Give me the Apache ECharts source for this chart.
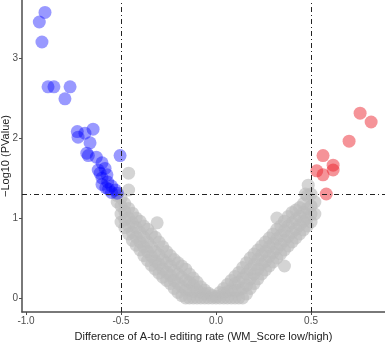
<!DOCTYPE html>
<html>
<head>
<meta charset="utf-8">
<script src="https://cdn.jsdelivr.net/npm/echarts@6/dist/echarts.min.js"></script>
<style>
  html, body { margin: 0; padding: 0; background: #fff; }
  #chart { width: 385px; height: 349px; }
</style>
</head>
<body>
<div id="chart"></div>
<script>
// ticks
const xTicks = [-1.0, -0.5, 0.0, 0.5];
const yTicks = [0, 1, 2, 3];
// thresholds
const xCut = [-0.5, 0.5];
const yCut = 1.3;

// significant, lower in "low"
const downPoints = [
    [-0.90, 3.57], [-0.93, 3.45], [-0.916, 3.2],
    [-0.884, 2.64], [-0.853, 2.64], [-0.768, 2.64], [-0.795, 2.49],
    [-0.73, 2.08], [-0.726, 2.01], [-0.69, 2.06], [-0.647, 2.11], [-0.663, 1.94],
    [-0.68, 1.81], [-0.672, 1.78], [-0.63, 1.76], [-0.60, 1.69], [-0.584, 1.62],
    [-0.61, 1.56], [-0.574, 1.54], [-0.505, 1.78],
    [-0.62, 1.6], [-0.60, 1.5], [-0.57, 1.45], [-0.55, 1.4], [-0.53, 1.35],
    [-0.58, 1.38], [-0.55, 1.32], [-0.52, 1.31], [-0.6, 1.42], [-0.565, 1.36]
];
// significant, higher in "low"
const upPoints = [
    [0.758, 2.31], [0.816, 2.2], [0.70, 1.96], [0.563, 1.78],
    [0.616, 1.66], [0.616, 1.6], [0.53, 1.59], [0.563, 1.54], [0.58, 1.30]
];
// not significant, columns of [x, [y...]]
const nsColumns = [
    [-0.52, [1.2, 1.28]],
    [-0.50, [0.95, 1.05, 1.15, 1.25]],
    [-0.48, [0.88, 0.98, 1.08, 1.18]],
    [-0.46, [0.8, 0.9, 1.0, 1.12]],
    [-0.44, [0.72, 0.82, 0.94, 1.06]],
    [-0.42, [0.66, 0.76, 0.88, 1.0]],
    [-0.40, [0.6, 0.7, 0.82, 0.96]],
    [-0.38, [0.53, 0.64, 0.76, 0.9]],
    [-0.36, [0.47, 0.58, 0.7, 0.86]],
    [-0.34, [0.41, 0.52, 0.64, 0.8]],
    [-0.32, [0.36, 0.46, 0.58, 0.76]],
    [-0.30, [0.31, 0.42, 0.54, 0.7]],
    [-0.28, [0.26, 0.36, 0.48, 0.64]],
    [-0.26, [0.22, 0.32, 0.44, 0.58]],
    [-0.24, [0.18, 0.28, 0.4, 0.53]],
    [-0.22, [0.12, 0.22, 0.34, 0.48]],
    [-0.20, [0.07, 0.18, 0.3, 0.44]],
    [-0.18, [0.03, 0.14, 0.26, 0.4]],
    [-0.16, [0.0, 0.1, 0.22, 0.36]],
    [-0.14, [0.0, 0.1, 0.2, 0.3]],
    [-0.12, [0.0, 0.08, 0.16, 0.25]],
    [-0.10, [0.0, 0.1, 0.2]],
    [-0.08, [0.0, 0.07, 0.14]],
    [-0.06, [0.0, 0.05, 0.1]],
    [-0.04, [0.0, 0.06]],
    [-0.02, [0.0, 0.03]],
    [0.00, [0.0, 0.02]],
    [0.02, [0.0, 0.07]],
    [0.04, [0.0, 0.06, 0.12]],
    [0.06, [0.0, 0.08, 0.17]],
    [0.08, [0.0, 0.1, 0.22]],
    [0.10, [0.0, 0.09, 0.18, 0.27]],
    [0.12, [0.0, 0.1, 0.2, 0.32]],
    [0.14, [0.0, 0.12, 0.25, 0.38]],
    [0.16, [0.05, 0.16, 0.3, 0.44]],
    [0.18, [0.12, 0.24, 0.36, 0.5]],
    [0.20, [0.18, 0.3, 0.42, 0.55]],
    [0.22, [0.24, 0.36, 0.48, 0.6]],
    [0.24, [0.3, 0.42, 0.54, 0.65]],
    [0.26, [0.35, 0.46, 0.58, 0.7]],
    [0.28, [0.4, 0.52, 0.64, 0.75]],
    [0.30, [0.45, 0.57, 0.68, 0.8]],
    [0.32, [0.5, 0.62, 0.74, 0.86]],
    [0.34, [0.55, 0.67, 0.78, 0.9]],
    [0.36, [0.6, 0.72, 0.84, 0.96]],
    [0.38, [0.65, 0.77, 0.9, 1.02]],
    [0.40, [0.7, 0.82, 0.94, 1.07]],
    [0.42, [0.75, 0.86, 0.98, 1.1]],
    [0.44, [0.8, 0.91, 1.02, 1.13]],
    [0.46, [0.85, 0.96, 1.07, 1.18]],
    [0.48, [0.9, 1.0, 1.12, 1.28]],
    [0.50, [0.95, 1.05, 1.15, 1.3]],
    [0.52, [1.05, 1.2]]
];
// stray grey points
const nsExtra = [
    [-0.31, 0.94], [-0.46, 1.56], [-0.46, 1.35], [0.32, 1.0],
    [0.36, 0.4], [0.485, 1.41], [0.47, 1.3]
];

let nsPoints = [];
nsColumns.forEach(function (c) {
    c[1].forEach(function (y) { nsPoints.push([c[0], y]); });
});
nsPoints = nsPoints.concat(nsExtra);

let chart = echarts.init(document.getElementById('chart'));
let axisText = { color: '#4d4d4d', fontSize: 10, fontFamily: 'Liberation Sans, Arial' };
let dashDot = { color: '#222', width: 1, type: [5, 3, 1, 3] };

let option = {
    animation: false,
    grid: { left: 22, right: 0, top: 0, bottom: 37, outerBoundsMode: 'none', containLabel: false },
    xAxis: {
        type: 'value',
        min: -1.021,
        max: 0.889,
        splitLine: { show: false },
        axisLine: { onZero: false, lineStyle: { color: '#4d4d4d', width: 1.5 } },
        axisTick: { length: 3, lineStyle: { color: '#4d4d4d' }, customValues: xTicks },
        axisLabel: Object.assign({
            margin: 4,
            customValues: xTicks,
            formatter: function (v) { return v.toFixed(1); }
        }, axisText),
        name: 'Difference of A-to-I editing rate (WM_Score low/high)',
        nameLocation: 'middle',
        nameGap: 19,
        nameMoveOverlap: false,
        nameTextStyle: { color: '#222', fontSize: 11, fontFamily: 'Liberation Sans, Arial' }
    },
    yAxis: {
        type: 'value',
        min: -0.175,
        max: 3.725,
        splitLine: { show: false },
        axisLine: { onZero: false, lineStyle: { color: '#4d4d4d', width: 1.5 } },
        axisTick: { length: 3, lineStyle: { color: '#4d4d4d' }, customValues: yTicks },
        axisLabel: Object.assign({
            margin: 4,
            customValues: yTicks,
            formatter: function (v) { return String(v); }
        }, axisText),
        name: '\u2212Log10 (PValue)',
        nameLocation: 'middle',
        nameGap: 11,
        nameMoveOverlap: false,
        nameTextStyle: { color: '#222', fontSize: 11, fontFamily: 'Liberation Sans, Arial' }
    },
    series: [
        {
            name: 'ns',
            type: 'scatter',
            symbolSize: 13,
            itemStyle: { color: 'rgba(188,188,188,0.8)' },
            data: nsPoints,
            markLine: {
                silent: true,
                symbol: 'none',
                label: { show: false },
                lineStyle: dashDot,
                data: [
                    { xAxis: xCut[0] },
                    { xAxis: xCut[1] },
                    { yAxis: yCut }
                ]
            }
        },
        {
            name: 'down',
            type: 'scatter',
            symbolSize: 13,
            itemStyle: { color: 'rgba(0,0,255,0.5)' },
            data: downPoints
        },
        {
            name: 'up',
            type: 'scatter',
            symbolSize: 13,
            itemStyle: { color: 'rgba(235,30,40,0.6)' },
            data: upPoints
        }
    ]
};
chart.setOption(option);
</script>
</body>
</html>
